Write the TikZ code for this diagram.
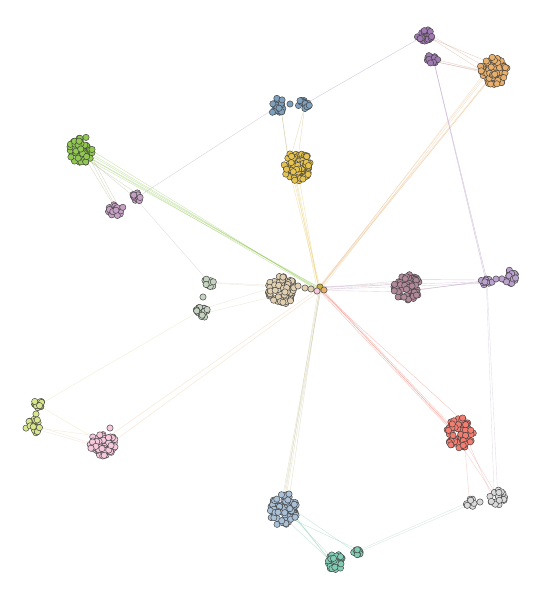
\documentclass[tikz,border=0pt]{standalone}
\usetikzlibrary{calc}
\definecolor{cbeige}{HTML}{E0CFB0}
\definecolor{cyel}{HTML}{E6C350}
\definecolor{csteel}{HTML}{7FA0BC}
\definecolor{cpurp}{HTML}{A07AB2}
\definecolor{corg}{HTML}{E8B06C}
\definecolor{cgreen}{HTML}{90C850}
\definecolor{cmauve}{HTML}{C6A0C4}
\definecolor{cgg}{HTML}{C4D4C0}
\definecolor{crose}{HTML}{B08898}
\definecolor{clav}{HTML}{BBA2CE}
\definecolor{clime}{HTML}{DAE68E}
\definecolor{cpink}{HTML}{F5C8DC}
\definecolor{csalm}{HTML}{F27D70}
\definecolor{cgray}{HTML}{D9D9D9}
\definecolor{cltb}{HTML}{A9C0D6}
\definecolor{cteal}{HTML}{80CCB4}
\definecolor{colive}{HTML}{C8B040}
\tikzset{
  dot/.style={circle, draw={black!75}, line width=0.45pt, inner sep=0pt, minimum size=6.3pt},
  lnk/.style={draw=#1, line width=0.4pt, opacity=0.45}
}
\newcommand\clus[7]{%
  \coordinate (#1) at (#2,#3);
  \foreach \k in {1,...,#6}{
    \pgfmathsetmacro\ang{360*rnd}
    \pgfmathsetmacro\rr{sqrt(rnd)}
    \node[dot, fill=#7] (#1-\k) at ({#2+#4*\rr*cos(\ang)},{#3+#5*\rr*sin(\ang)}) {};
  }}
\newcommand\bund[6]{%
  \foreach \k in {1,...,#4}{
    \pgfmathsetmacro\ax{#5*(2*rnd-1)}
    \pgfmathsetmacro\ay{#5*(2*rnd-1)}
    \pgfmathsetmacro\bx{#6*(2*rnd-1)}
    \pgfmathsetmacro\by{#6*(2*rnd-1)}
    \draw[lnk=#3] ([shift={(\ax,\ay)}]#1) -- ([shift={(\bx,\by)}]#2);
  }}
\begin{document}
\begin{tikzpicture}[x=1pt,y=-1pt]
\pgfmathsetseed{4242}
\useasboundingbox[fill=white] (0,0) rectangle (544,600);
% cluster centres
\coordinate (H) at (319,289);
\coordinate (B) at (282,290);
\coordinate (Y) at (297,166);
\coordinate (S1) at (277,106);
\coordinate (S2) at (303,104);
\coordinate (P1) at (424,35);
\coordinate (P2) at (433,59);
\coordinate (O) at (494,70);
\coordinate (G) at (81,150);
\coordinate (M1) at (116,210);
\coordinate (M2) at (136,197);
\coordinate (GG1) at (209,283);
\coordinate (GG2) at (202,311);
\coordinate (R) at (407,287);
\coordinate (L) at (509,276);
\coordinate (L2) at (488,281);
\coordinate (LL1) at (39,404);
\coordinate (LL2) at (33,426);
\coordinate (PK) at (103,443);
\coordinate (SA) at (460,433);
\coordinate (GR) at (497,498);
\coordinate (GR2) at (471,503);
\coordinate (LB) at (283,510);
\coordinate (T) at (335,562);
\coordinate (T2) at (357,551);
% edges
\bund{G}{H}{cgreen}{6}{8}{2}
\bund{O}{H}{corg!80}{6}{9}{2}
\bund{Y}{H}{cyel}{5}{10}{2}
\bund{S1}{Y}{cyel!60!csteel}{2}{4}{8}
\bund{S2}{Y}{cyel!70!csteel}{2}{3}{8}
\bund{M2}{S1}{cmauve!50!csteel}{1}{2}{2}
\bund{S2}{P1}{csteel!50!cpurp}{1}{2}{2}
\bund{P1}{O}{cpurp!40!corg}{3}{4}{8}
\bund{P2}{O}{cpurp!40!corg}{3}{3}{8}
\bund{P2}{L2}{cpurp}{2}{2}{3}
\bund{H}{R}{crose!70}{4}{2}{8}
\bund{R}{L2}{crose!70!clav}{3}{8}{3}
\bund{H}{L2}{clav}{2}{2}{3}
\bund{H}{SA}{csalm}{5}{2}{9}
\bund{SA}{GR}{csalm!60!cgray}{3}{6}{5}
\bund{SA}{GR2}{csalm!60!cgray}{1}{5}{3}
\bund{L2}{GR}{clav!60!cgray}{2}{2}{3}
\bund{H}{LB}{cltb!50!cyel}{5}{2}{6}
\bund{LB}{T}{cteal}{4}{9}{5}
\bund{LB}{T2}{cteal}{2}{8}{2}
\bund{T2}{GR2}{cteal!50!cgray}{2}{2}{3}
\bund{H}{PK}{cyel!50!cpink}{2}{2}{6}
\bund{B}{GG1}{cbeige!70!cgg}{2}{5}{3}
\bund{B}{GG2}{cbeige!70!cgg}{2}{5}{3}
\bund{GG2}{LL1}{clime!70!cgg}{1}{2}{2}
\bund{LL2}{PK}{clime!50!cpink}{3}{4}{6}
\bund{LL1}{PK}{clime}{1}{2}{4}
\bund{M2}{GG1}{cmauve!50!cgg}{1}{2}{2}
\bund{G}{M1}{cgreen!50!cmauve}{3}{6}{4}
\bund{G}{M2}{cgreen!50!cmauve}{2}{6}{3}
% clusters
\clus{cB}{282}{290}{15}{14}{75}{cbeige}
\node[dot, fill=cbeige] (b1) at (298,286) {};
\node[dot, fill=cbeige] (b2) at (305,288) {};
\node[dot, fill=cbeige] (b3) at (311,289) {};
\node[dot, fill=colive] (h1) at (320,287) {};
\node[dot, fill=cpink] (h2) at (317,291) {};
\node[dot, fill=corg] (h3) at (324,290) {};
\clus{cY}{297}{166}{14}{15}{75}{cyel}
\clus{cS1}{277}{106}{8}{8}{24}{csteel}
\clus{cS2}{303}{104}{7}{5}{15}{csteel}
\node[dot, fill=csteel] (s0) at (290,104) {};
\clus{cP1}{424}{35}{8}{7}{20}{cpurp}
\clus{cP2}{433}{59}{6}{5}{11}{cpurp}
\clus{cO}{494}{70}{14}{15}{65}{corg}
\clus{cG}{81}{150}{12}{14}{58}{cgreen}
\clus{cM1}{116}{210}{8}{6}{20}{cmauve}
\clus{cM2}{136}{197}{5}{5}{10}{cmauve}
\clus{cGG1}{209}{283}{5}{5}{11}{cgg}
\node[dot, fill=cgg] (g0) at (203,297) {};
\clus{cGG2}{202}{311}{6}{8}{19}{cgg}
\clus{cR}{407}{287}{14}{13}{60}{crose}
\clus{cL}{509}{276}{8}{8}{20}{clav}
\clus{cL2}{486}{282}{6}{4}{10}{clav}
\node[dot, fill=clav] (l0) at (496,279) {};
\clus{cLL1}{39}{404}{5}{5}{11}{clime}
\node[dot, fill=clime] (ll0) at (36,414) {};
\clus{cLL2}{33}{427}{7}{9}{22}{clime}
\clus{cPK}{103}{444}{13}{12}{62}{cpink}
\node[dot, fill=cpink] (pk0) at (110,428) {};
\clus{cSA}{460}{433}{14}{16}{68}{csalm}
\clus{cGR}{497}{498}{8}{8}{20}{cgray}
\clus{cGR2}{470}{503}{5}{5}{10}{cgray}
\node[dot, fill=cgray] (gr0) at (480,502) {};
\clus{cLB}{283}{510}{14}{16}{68}{cltb}
\node[dot, fill=cltb] (lb0) at (289,494) {};
\clus{cT}{335}{562}{9}{9}{25}{cteal}
\clus{cT2}{357}{551}{5}{4}{10}{cteal}
\end{tikzpicture}
\end{document}
